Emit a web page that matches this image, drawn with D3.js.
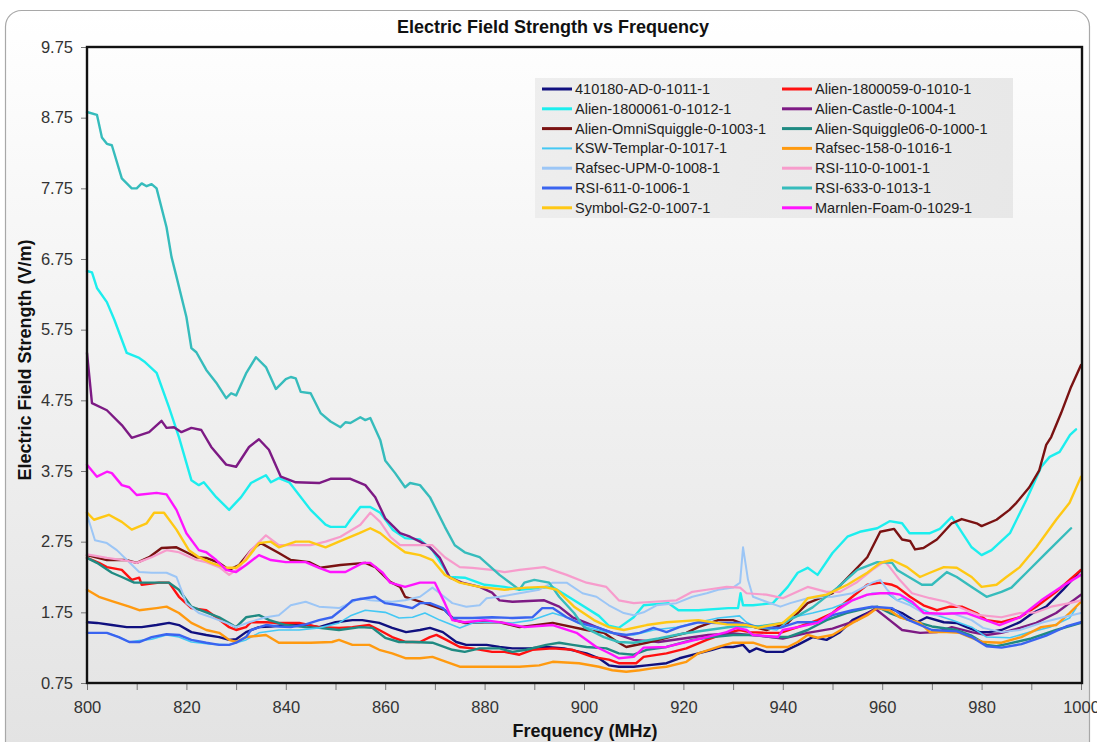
<!DOCTYPE html>
<html><head><meta charset="utf-8">
<script src="https://cdn.jsdelivr.net/npm/d3@7"></script>
<style>html,body{margin:0;padding:0;background:#fff;}svg{display:block;font-family:Arial,"Liberation Sans",sans-serif;}</style>
</head><body>
<svg id="c" width="1097" height="742"></svg>
<script>
// ---- data (frequency MHz, field strength V/m) ----
const xTicks = [800,810,820,830,840,850,860,870,880,890,900,910,920,930,940,950,960,970,980,990,1000];
const yTicks = [0.75,1.75,2.75,3.75,4.75,5.75,6.75,7.75,8.75,9.75];

const seriesNames = ["410180-AD-0-1011-1","Alien-1800059-0-1010-1","Alien-1800061-0-1012-1","Alien-Castle-0-1004-1",
  "Alien-OmniSquiggle-0-1003-1","Alien-Squiggle06-0-1000-1","KSW-Templar-0-1017-1","Rafsec-158-0-1016-1",
  "Rafsec-UPM-0-1008-1","RSI-110-0-1001-1","RSI-611-0-1006-1","RSI-633-0-1013-1","Symbol-G2-0-1007-1","Marnlen-Foam-0-1029-1"];
const seriesColors = ["#10107f","#ff1010","#1ceeee","#7d1a84","#7a1212","#1f8a82","#44c8f4","#ff9a10",
  "#9cc6f6","#f79ccc","#3a64f0","#36bcbc","#ffc814","#ff14ff"];

const s410180AD = [[800,1.61],[802,1.6],[805,1.57],[808,1.54],[811,1.54],[814,1.57],[816.5,1.6],[818.5,1.57],[821,1.47],[824,1.43],[826.6,1.4],[828.6,1.36],[830,1.37],[832,1.47],[834.6,1.54],[837,1.55],[840,1.57],[844,1.57],[846.7,1.54],[850,1.61],[853.4,1.64],[855.4,1.64],[858.8,1.6],[861.4,1.53],[864.2,1.47],[867,1.5],[869,1.53],[871.6,1.47],[874.3,1.33],[876.3,1.29],[880.4,1.29],[883,1.26],[885.6,1.24],[889,1.24],[892.4,1.26],[896,1.24],[900.5,1.17],[903,1.1],[905,1.0],[907,0.98],[910,0.98],[912.6,1.0],[916.6,1.03],[919.2,1.1],[923,1.17],[925.8,1.22],[927.8,1.26],[930,1.26],[932,1.29],[933.3,1.19],[934.7,1.24],[936.7,1.19],[940,1.19],[943,1.29],[946,1.4],[948.8,1.36],[951.5,1.47],[954,1.64],[957,1.74],[959,1.81],[961.5,1.81],[964,1.74],[967,1.61],[969,1.68],[972.4,1.61],[975,1.6],[977,1.54],[979.6,1.47],[981.5,1.47],[984,1.5],[987.7,1.61],[990.3,1.74],[993,1.83],[996.4,2.07],[1000,2.35]];
const sAlien1800059 = [[800,2.52],[802.4,2.45],[804,2.39],[807,2.35],[809,2.21],[810.5,2.24],[811,2.14],[814.5,2.17],[816.5,2.17],[818.5,1.97],[821,1.81],[824,1.78],[826,1.68],[828.6,1.54],[830,1.5],[832,1.54],[833,1.61],[836,1.61],[838.6,1.6],[842.7,1.6],[846.7,1.54],[850.7,1.53],[853.4,1.54],[856.8,1.57],[858.8,1.5],[861.4,1.4],[864.2,1.33],[867,1.33],[869,1.4],[870.3,1.43],[872.3,1.36],[875,1.26],[877.5,1.24],[881.5,1.19],[884,1.19],[887,1.15],[889.6,1.22],[893.7,1.24],[897.7,1.22],[901.7,1.12],[905,1.08],[907,1.03],[910.5,1.03],[912,1.12],[916.6,1.17],[920.6,1.24],[924.7,1.36],[928.7,1.46],[931.3,1.5],[933.3,1.47],[936.7,1.46],[939.5,1.46],[943,1.54],[947,1.64],[950,1.74],[954,1.97],[957,2.14],[959.6,2.17],[962,2.14],[963,2.11],[965.6,1.97],[968.3,1.85],[971,1.78],[973.6,1.83],[976,1.83],[979,1.74],[981,1.64],[984,1.61],[987.7,1.68],[991,1.83],[995,2.04],[997.7,2.21],[1000,2.35]];
const sAlien1800061 = [[800,6.58],[801,6.56],[802,6.34],[804,6.14],[805.5,5.89],[808,5.42],[810.5,5.35],[811.5,5.3],[814,5.14],[816.5,4.65],[818.5,4.23],[821,3.62],[822.5,3.55],[823.5,3.59],[826,3.38],[828.6,3.2],[831,3.38],[833,3.58],[836,3.69],[837,3.59],[838.6,3.65],[840.7,3.59],[845,3.2],[848,2.99],[849,2.96],[852,2.96],[853,3.06],[855,3.24],[857,3.24],[859,3.16],[861.5,2.92],[864,2.8],[867,2.78],[869.5,2.63],[873,2.25],[876,2.24],[880,2.14],[884,2.11],[887,2.07],[893.7,2.11],[898,1.92],[903,1.7],[905,1.56],[907,1.53],[910,1.68],[912,1.85],[917,1.88],[919,1.78],[923,1.78],[929,1.81],[931,1.81],[931.5,2.02],[932,1.85],[934,1.85],[938,1.88],[941,2.11],[943,2.31],[945,2.38],[947,2.28],[950,2.59],[953,2.82],[955.5,2.89],[959,2.94],[961.5,3.04],[964,3.01],[965.5,2.87],[969.6,2.87],[971.6,2.93],[974,3.1],[978,2.67],[980,2.56],[982,2.63],[985.7,2.87],[989,3.34],[992,3.81],[993.7,3.95],[995.7,4.02],[997.8,4.26],[999,4.34]];
const sAlienCastle = [[800,5.42],[801,4.71],[804,4.61],[807,4.4],[809,4.22],[812.5,4.3],[815,4.46],[816,4.36],[817.5,4.37],[819,4.3],[821,4.36],[823,4.33],[825,4.09],[828,3.84],[830,3.81],[832.6,4.09],[834.6,4.2],[836.6,4.05],[839,3.67],[842,3.59],[846.7,3.58],[849,3.64],[853,3.64],[856,3.55],[858,3.38],[860,3.08],[863,2.87],[865,2.82],[867,2.75],[869,2.67],[871,2.52],[873,2.24],[875.5,2.17],[879,2.11],[881.5,2.03],[883,1.92],[885.6,1.9],[892,1.92],[895,1.83],[897.7,1.68],[900.5,1.6],[904,1.5],[907,1.43],[910,1.36],[915,1.33],[920,1.38],[925,1.43],[930,1.45],[935,1.42],[940,1.38],[945,1.46],[950,1.52],[955,1.64],[958.6,1.8],[961.5,1.64],[964,1.5],[967.6,1.46],[971,1.47],[974,1.54],[978,1.47],[981,1.43],[984,1.46],[987.7,1.53],[991,1.6],[995,1.74],[997.7,1.88],[1000,2.0]];
const sAlienOmniSquiggle = [[800,2.56],[804,2.49],[808,2.49],[810,2.45],[812.5,2.53],[815,2.66],[818,2.67],[820,2.6],[822,2.53],[824,2.52],[826.6,2.45],[828.6,2.35],[830.6,2.42],[833,2.63],[835,2.73],[838.6,2.59],[841,2.49],[844.7,2.46],[847,2.38],[851,2.42],[856,2.45],[858,2.39],[861,2.18],[863,2.11],[864,1.97],[867,1.9],[870,1.83],[872,1.78],[874,1.64],[876,1.6],[880,1.61],[883,1.61],[887,1.54],[893.7,1.6],[900.5,1.5],[904,1.46],[906.5,1.34],[908.5,1.26],[912.6,1.32],[916.6,1.39],[920.6,1.46],[923,1.54],[927,1.64],[930,1.64],[932.7,1.57],[936.7,1.5],[941,1.6],[945,1.88],[950,2.02],[954,2.31],[957,2.53],[959.6,2.89],[962.4,2.93],[964,2.78],[965.6,2.76],[966.6,2.64],[968.3,2.66],[971,2.78],[974,3.01],[976,3.07],[979,3.01],[980,2.97],[983,3.06],[985.6,3.2],[987,3.3],[989.6,3.52],[991.6,3.76],[993,4.12],[994,4.23],[996,4.57],[998,4.94],[1000,5.25]];
const sAlienSquiggle06 = [[800,2.52],[802,2.45],[805,2.31],[807,2.25],[809.5,2.17],[812.5,2.17],[816.5,2.17],[818.5,2.07],[821,1.83],[824,1.75],[826.6,1.68],[828.6,1.6],[830,1.54],[832,1.68],[834.6,1.71],[836.7,1.64],[840,1.57],[844,1.54],[846.7,1.53],[850.7,1.5],[855,1.54],[857.4,1.53],[860,1.39],[862.8,1.33],[865.5,1.33],[869.5,1.32],[873.5,1.22],[876,1.19],[879,1.24],[883,1.24],[885.6,1.19],[888.4,1.22],[892.4,1.29],[895,1.32],[897.7,1.29],[900.5,1.26],[904.5,1.24],[907,1.17],[910,1.15],[912.6,1.22],[916.6,1.26],[921.8,1.36],[925.8,1.4],[930,1.43],[934,1.43],[938,1.4],[941,1.4],[945,1.5],[948.8,1.64],[952.8,1.74],[957,1.81],[959,1.83],[961.5,1.74],[965,1.65],[970,1.55],[975,1.5],[978,1.42],[981,1.29],[983,1.27],[985,1.3],[990,1.38],[995,1.5],[1000,1.6]];
const sKSWTemplar = [[800,1.46],[804,1.46],[806.4,1.4],[808.5,1.33],[810.5,1.35],[813,1.37],[816,1.43],[818.5,1.4],[821,1.33],[825,1.3],[828.6,1.29],[832,1.36],[834.6,1.46],[838.6,1.5],[842.7,1.5],[846.7,1.53],[850.7,1.6],[853,1.7],[856,1.78],[860,1.75],[862.8,1.67],[865.5,1.68],[868,1.74],[871,1.64],[875,1.53],[877.6,1.6],[880.4,1.61],[885.6,1.6],[889.6,1.64],[893.7,1.74],[896.5,1.68],[900.5,1.54],[904.5,1.47],[907,1.44],[910,1.43],[914,1.5],[918.6,1.54],[923,1.61],[927,1.67],[931.3,1.7],[932.7,1.61],[934.7,1.54],[938.8,1.5],[942,1.68],[946,1.74],[950,1.81],[954,1.92],[958,2.02],[961,2.02],[963,1.92],[964,1.95],[967,1.83],[969.6,1.74],[974,1.64],[978,1.54],[981,1.4],[985.7,1.39],[989.7,1.47],[993.7,1.54],[997.7,1.67],[999,1.81]];
const sRafsec158 = [[800,2.07],[802.4,1.97],[805,1.91],[808.5,1.83],[810.5,1.78],[814,1.81],[816,1.83],[818.5,1.74],[821,1.6],[824,1.5],[826.6,1.46],[828.6,1.36],[830,1.33],[832,1.4],[836,1.43],[838.6,1.32],[845,1.32],[849.3,1.33],[850.7,1.36],[853.4,1.29],[856.8,1.29],[858.8,1.22],[861.4,1.17],[864.2,1.1],[867,1.1],[869.5,1.12],[872.3,1.05],[875,0.98],[887,0.98],[891,1.0],[893.7,1.05],[899,1.03],[903,0.98],[905.7,0.93],[908.5,0.91],[911.2,0.93],[914,0.96],[916.6,0.98],[920.6,1.05],[923,1.17],[927,1.26],[930,1.32],[934,1.32],[936.7,1.26],[941,1.26],[943,1.33],[945,1.43],[947,1.39],[950,1.43],[954,1.6],[957,1.71],[959,1.81],[961.5,1.78],[963.5,1.68],[967.6,1.6],[969.6,1.47],[973,1.47],[975.6,1.46],[978,1.39],[980.3,1.33],[984,1.32],[988,1.4],[992,1.54],[995,1.57],[997.7,1.74],[1000,1.9]];
const sRafsecUPM = [[800,3.13],[801.6,2.77],[804,2.73],[806,2.63],[808.5,2.46],[810.5,2.32],[813,2.31],[816,2.31],[818,2.25],[820,1.88],[822.5,1.74],[825,1.68],[828,1.6],[830,1.54],[832.6,1.61],[836,1.68],[838.6,1.71],[841,1.85],[844,1.9],[846.7,1.83],[850.7,1.81],[852,1.85],[855,1.95],[857,1.92],[861.4,1.9],[864,1.92],[867,1.97],[869.5,2.1],[871,2.02],[873.5,1.88],[876.3,1.83],[879,1.85],[880.4,1.95],[883,1.97],[887,2.02],[891,2.07],[893.7,2.17],[896.5,2.17],[899.7,2.02],[902.5,1.97],[905,1.85],[908,1.74],[910,1.71],[912,1.75],[914.6,1.85],[918.6,1.88],[921.8,1.97],[924.7,2.02],[927,2.07],[930,2.1],[931.4,2.17],[932,2.67],[933,2.21],[934,1.97],[936.7,1.9],[939.5,1.83],[941.5,1.88],[945,1.95],[950,1.97],[954,2.02],[958,2.17],[959.6,2.21],[961,2.07],[963,1.92],[965.6,1.85],[968.3,1.74],[971,1.71],[974,1.74],[978,1.64],[980.3,1.53],[984,1.47],[987.7,1.5],[992.4,1.61],[996.4,1.68],[1000,1.74]];
const sRSI110 = [[800,2.57],[804,2.52],[808,2.48],[810,2.45],[813,2.53],[816,2.63],[818.5,2.6],[822,2.49],[824,2.46],[826.6,2.39],[828.6,2.28],[830.6,2.38],[833,2.63],[836,2.84],[838.6,2.7],[845,2.7],[848,2.75],[851,2.82],[855,2.99],[857,3.16],[859,3.03],[861,2.82],[863,2.7],[869.5,2.7],[872,2.53],[875,2.39],[877.5,2.38],[881.5,2.35],[884,2.32],[887,2.35],[892,2.39],[896.5,2.28],[900.5,2.17],[904.5,2.11],[907,1.92],[910,1.88],[914,1.9],[918.6,1.92],[921.8,2.04],[924.7,2.07],[928.7,2.11],[931.4,2.1],[932.7,2.02],[936.7,2.0],[940,1.95],[945,2.11],[948.8,2.04],[951.5,2.04],[955,2.18],[958,2.35],[960.5,2.47],[961.5,2.39],[963.5,2.21],[966,2.02],[969.6,1.95],[972.9,1.9],[977,1.78],[979.6,1.71],[984,1.68],[987.7,1.74],[991,1.75],[994,1.83],[997.7,1.88],[1000,1.92]];
const sRSI611 = [[800,1.46],[804,1.46],[806.4,1.4],[808.5,1.33],[810.5,1.33],[813,1.4],[816,1.44],[818.5,1.43],[821,1.36],[824,1.32],[826.6,1.29],[828.6,1.29],[830,1.32],[832,1.4],[833,1.5],[836,1.57],[838.6,1.55],[841,1.54],[844,1.58],[846.7,1.64],[849.3,1.68],[852,1.83],[853.4,1.92],[856,1.95],[858,1.97],[860,1.88],[862.8,1.85],[865.5,1.81],[867,1.88],[869,1.88],[871.6,1.81],[873.5,1.67],[877.6,1.67],[881.5,1.68],[885.6,1.67],[889.6,1.68],[891.6,1.81],[893.7,1.81],[896.5,1.68],[899,1.6],[903,1.53],[905.7,1.46],[908.5,1.43],[911.2,1.46],[914,1.53],[916.6,1.47],[919.2,1.54],[923,1.61],[927,1.6],[931.3,1.6],[935.3,1.54],[939.4,1.53],[943,1.61],[947,1.61],[950,1.71],[954,1.78],[958,1.83],[962,1.81],[965,1.65],[970,1.5],[975,1.48],[978,1.4],[981,1.27],[984,1.25],[988,1.3],[993,1.42],[997,1.55],[1000,1.61]];
const sRSI633 = [[800,8.83],[802,8.79],[803,8.47],[804,8.38],[805,8.36],[807,7.89],[809,7.75],[810,7.75],[811,7.82],[812,7.78],[813,7.81],[814,7.75],[816,7.2],[817,6.78],[818,6.5],[820,5.93],[821,5.49],[822,5.43],[824,5.18],[826,5.0],[828,4.78],[829,4.85],[830,4.82],[832,5.13],[834,5.36],[836,5.22],[838,4.91],[840,5.05],[841,5.08],[842,5.06],[843,4.87],[845,4.85],[847,4.57],[849,4.45],[851,4.37],[852,4.44],[853,4.43],[855,4.51],[856,4.47],[857,4.5],[859,4.19],[860,3.9],[862,3.72],[864,3.52],[865,3.58],[867,3.55],[869,3.38],[872,2.96],[874,2.7],[876,2.6],[879,2.53],[883,2.28],[887,2.07],[888,2.17],[890,2.21],[893,2.17],[895,1.97],[898,1.74],[900,1.54],[904,1.4],[907,1.33],[910,1.32],[915,1.38],[920,1.45],[925,1.5],[930,1.55],[935,1.55],[940,1.6],[943,1.7],[946,1.82],[951,2.1],[955,2.35],[959,2.46],[962,2.45],[963,2.35],[968,2.14],[970,2.14],[973,2.32],[975,2.25],[978,2.11],[981,1.97],[984,2.04],[986,2.1],[989,2.31],[993,2.59],[998,2.94]];
const sSymbolG2 = [[800,3.16],[801.4,3.06],[804.4,3.13],[807,3.03],[809,2.92],[812,3.01],[813.5,3.16],[815.5,3.16],[818,2.92],[820.5,2.63],[822.5,2.53],[825,2.45],[828,2.38],[830,2.38],[832,2.49],[834.6,2.73],[837,2.75],[838.6,2.67],[842,2.75],[844.7,2.75],[848,2.67],[850.7,2.75],[854.8,2.87],[857,2.94],[859,2.87],[861.4,2.73],[864,2.6],[867,2.56],[869.5,2.49],[872,2.28],[875,2.17],[879,2.11],[884,2.07],[888.4,2.1],[892,2.11],[894.5,2.07],[898,1.83],[902,1.64],[905,1.54],[908,1.5],[912.6,1.57],[916.6,1.61],[923,1.64],[928.7,1.58],[932.7,1.57],[935,1.53],[940,1.6],[943,1.78],[945,1.95],[948.8,2.0],[953,2.14],[957,2.31],[959.6,2.45],[962,2.49],[965,2.39],[967.6,2.25],[969.6,2.31],[972.4,2.39],[975,2.38],[978,2.25],[980,2.11],[983,2.14],[985,2.25],[987.7,2.39],[991,2.67],[995,3.06],[997.7,3.3],[1000,3.67]];
const sMarnlenFoam = [[800,3.84],[802,3.67],[804,3.74],[805,3.72],[807,3.55],[808.5,3.52],[810,3.41],[814,3.44],[816,3.42],[818,3.2],[820,2.87],[822.5,2.63],[824,2.6],[826,2.49],[828,2.35],[830,2.32],[832,2.42],[834.6,2.56],[837,2.49],[840,2.46],[844,2.46],[846.7,2.38],[849,2.32],[852,2.32],[855.5,2.45],[857,2.45],[859.5,2.31],[861,2.17],[864,2.11],[867,2.17],[870,2.17],[872,1.88],[873.5,1.64],[876,1.61],[880,1.64],[884,1.6],[888,1.54],[893.7,1.57],[898.5,1.46],[902.5,1.26],[905.7,1.15],[907,1.1],[910,1.12],[912,1.25],[916.6,1.26],[920.6,1.33],[924.7,1.4],[928.7,1.47],[930.7,1.53],[932.7,1.5],[934,1.43],[939,1.4],[940,1.5],[943,1.54],[947,1.6],[950,1.74],[954,1.92],[957,2.0],[959.6,2.02],[962,2.02],[963.6,2.0],[966,1.9],[968.4,1.74],[972.4,1.73],[977,1.74],[979.6,1.67],[983.6,1.57],[987.7,1.68],[992,1.92],[996,2.11],[1000,2.28]];

const seriesData = [s410180AD,sAlien1800059,sAlien1800061,sAlienCastle,sAlienOmniSquiggle,sAlienSquiggle06,
  sKSWTemplar,sRafsec158,sRafsecUPM,sRSI110,sRSI611,sRSI633,sSymbolG2,sMarnlenFoam];
const seriesWidths = [2.4,2.4,2.4,2.4,2.4,2.4,1.6,2.4,2.0,2.2,2.4,2.4,2.4,2.4];

// ---- layout ----
const svg = d3.select("#c");
const L = 87, R = 1081, T = 47, B = 683;
const x = d3.scaleLinear().domain([800,1000]).range([L,R]);
const y = d3.scaleLinear().domain([0.75,9.75]).range([B,T]);

const defs = svg.append("defs");
const g1 = defs.append("linearGradient").attr("id","bg").attr("x1",0).attr("y1",0).attr("x2",0).attr("y2",1);
g1.append("stop").attr("offset","0").attr("stop-color","#ffffff");
g1.append("stop").attr("offset","1").attr("stop-color","#e2e2e2");
const g2 = defs.append("linearGradient").attr("id","lg").attr("x1",0).attr("y1",0).attr("x2",1).attr("y2",0);
g2.append("stop").attr("offset","0").attr("stop-color","#ececec");
g2.append("stop").attr("offset","1").attr("stop-color","#e6e6e6");

svg.append("rect").attr("x",5.5).attr("y",10.5).attr("width",1084).attr("height",760).attr("rx",16)
  .attr("fill","url(#bg)").attr("stroke","#a8a8a8").attr("stroke-width",1.2);

// title
svg.append("text").attr("x",553).attr("y",33).attr("text-anchor","middle")
  .attr("font-size",18).attr("font-weight","bold").attr("fill","#111").text("Electric Field Strength vs Frequency");

// axes
const yAxis = d3.axisLeft(y).tickValues(yTicks).tickFormat(d3.format(".2f")).tickSize(6).tickPadding(8);
const xAxis = d3.axisBottom(x).tickValues(xTicks).tickFormat(d => d % 20 === 0 ? d : "").tickSize(7).tickPadding(11);
const ya = svg.append("g").attr("transform",`translate(${L},0)`).call(yAxis);
const xa = svg.append("g").attr("transform",`translate(0,${B})`).call(xAxis);
[ya,xa].forEach(a => {
  a.select(".domain").remove();
  a.selectAll("line").attr("stroke","#777");
  a.selectAll("text").attr("font-size",16.5).attr("fill","#333").attr("font-family","Arial, 'Liberation Sans', sans-serif");
});

// series lines
const clip = defs.append("clipPath").attr("id","pc");
clip.append("rect").attr("x",L-2).attr("y",T).attr("width",R-L+4).attr("height",B-T);
const line = d3.line().x(d => x(d[0])).y(d => y(d[1]));
const lg = svg.append("g").attr("clip-path","url(#pc)");
seriesData.forEach((s,i) => {
  lg.append("path").attr("d",line(s)).attr("fill","none").attr("stroke",seriesColors[i])
    .attr("stroke-width",seriesWidths[i]).attr("stroke-linejoin","round").attr("stroke-linecap","round");
});

// frame
svg.append("rect").attr("x",L).attr("y",T).attr("width",R-L+1).attr("height",B-T)
  .attr("fill","none").attr("stroke","#111").attr("stroke-width",2.4);

// axis titles
svg.append("text").attr("x",585).attr("y",737).attr("text-anchor","middle")
  .attr("font-size",18).attr("font-weight","bold").attr("fill","#111").text("Frequency (MHz)");
svg.append("text").attr("transform","translate(31,360) rotate(-90)").attr("text-anchor","middle")
  .attr("font-size",18).attr("font-weight","bold").attr("fill","#111").text("Electric Field Strength (V/m)");

// legend
const leg = svg.append("g");
leg.append("rect").attr("x",535).attr("y",78).attr("width",478).attr("height",140).attr("fill","url(#lg)").attr("opacity",0.9);
seriesNames.forEach((n,i) => {
  const col = i % 2, row = Math.floor(i/2);
  const lx = col === 0 ? 542 : 782;
  const ly = 89 + row*19.8;
  leg.append("line").attr("x1",lx).attr("x2",lx+30).attr("y1",ly).attr("y2",ly)
    .attr("stroke",seriesColors[i]).attr("stroke-width",i===6 ? 2 : 3);
  leg.append("text").attr("x",lx+33).attr("y",ly+5).attr("font-size",14.5).attr("fill","#222").text(n);
});
</script>
</body></html>
